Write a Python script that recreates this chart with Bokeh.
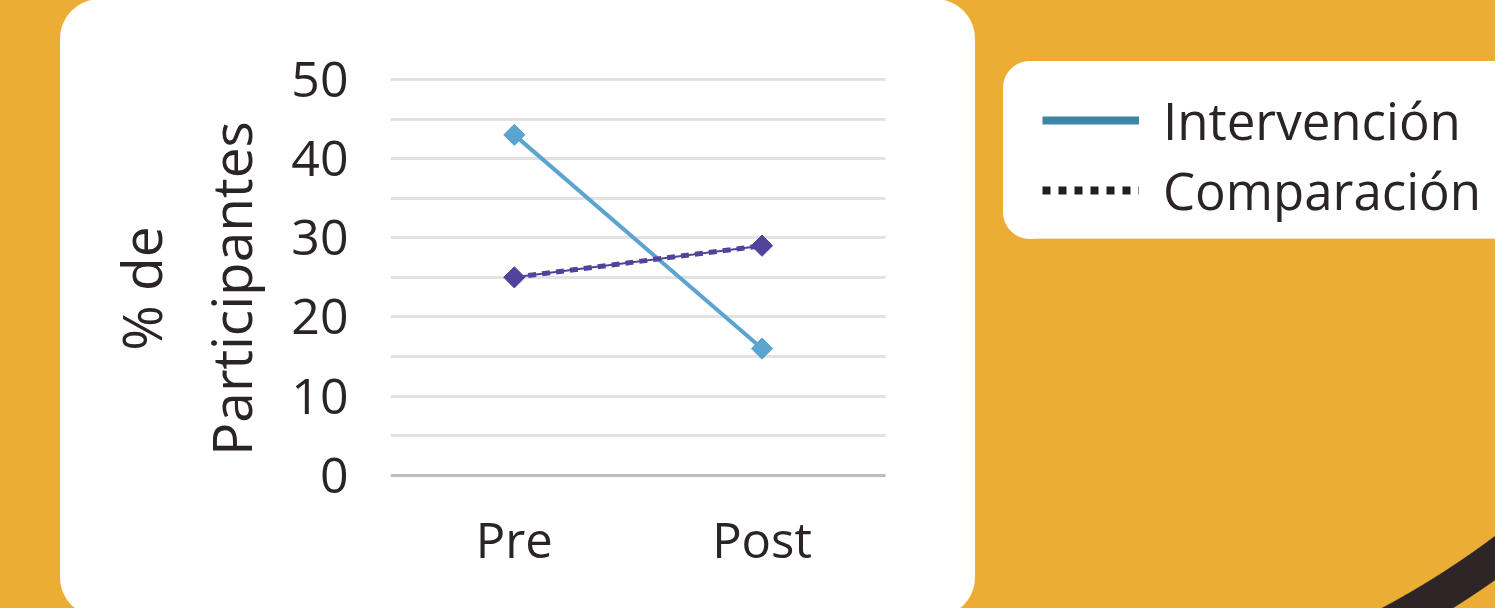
from bokeh.plotting import figure
from bokeh.models import (ColumnDataSource, Range1d, SingleIntervalTicker, FixedTicker,
                          Grid, Legend, LegendItem)
from bokeh.embed import file_html
from bokeh.resources import INLINE
import numpy as np

# ---- data ----
categories = ["Pre", "Post"]
intervencion = [43, 16]
comparacion = [25, 29]
y_ticks = [0, 10, 20, 30, 40, 50]
series_names = ["Intervención", "Comparación"]
y_title = "% de\nParticipantes"

# ---- style ----
ORANGE = "#EBAD34"
DARK = "#2E2527"
TEXT = "#2A2426"
FONT = "Open Sans"
BLUE = "#5BA4D0"
PURPLE = "#51439A"

W, H = 1495, 608
SX, SY = W / 1503.0, H / 616.0   # reference px -> figure px


def X(px):
    return px * SX


def Y(py):
    return py * SY


# plot frame (figure px); it runs to the right edge so the legend sits inside it
FL = round(X(392))
FT, FB = round(Y(72)), round(Y(512))
y50, y0 = Y(80), Y(481)
unit = (y0 - y50) / 50.0
y_top = 50 + (y50 - FT) / unit
y_bot = -(FB - y0) / unit
cat_w = 2 * (X(516.5) - X(392))          # width of one category slot
x_end = (W - FL) / cat_w
cat_pos = [i + 0.5 for i in range(len(categories))]
n_cat = len(categories)

p = figure(width=W, height=H,
           x_range=Range1d(0, x_end), y_range=Range1d(y_bot, y_top),
           output_backend="svg", toolbar_location=None,
           min_border_left=FL, min_border_right=0,
           min_border_top=FT, min_border_bottom=H - FB)

p.border_fill_color = None
p.background_fill_color = None
p.outline_line_color = None


# ---- page decoration drawn as CSS background of the figure ----
def rounded_rect(l, t, r, b, rad, color):
    w, h = r - l, b - t
    solid = f"linear-gradient({color}, {color})"
    circ = f"radial-gradient(circle at {rad}px {rad}px, {color} {rad - 0.6}px, transparent {rad + 0.6}px)"
    imgs = [solid, solid, circ, circ, circ, circ]
    sizes = [f"{w:.1f}px {h - 2 * rad:.1f}px", f"{w - 2 * rad:.1f}px {h:.1f}px"] + [f"{2 * rad}px {2 * rad}px"] * 4
    pos = [f"{l:.1f}px {t + rad:.1f}px", f"{l + rad:.1f}px {t:.1f}px",
           f"{l:.1f}px {t:.1f}px", f"{r - 2 * rad:.1f}px {t:.1f}px",
           f"{l:.1f}px {b - 2 * rad:.1f}px", f"{r - 2 * rad:.1f}px {b - 2 * rad:.1f}px"]
    return imgs, sizes, pos


imgs, sizes, pos = [], [], []
for spec in [(X(60), Y(-1), X(980), Y(625), 40, "#FFFFFF"),
             (X(1008), Y(62), X(1540), Y(242), 27, "#FFFFFF")]:
    a, b, c = rounded_rect(*spec)
    imgs += a
    sizes += b
    pos += c

# dark ring segment at bottom right
bx, by = round(X(1340)), round(Y(460))
ccx, ccy = X(975.5) - bx, Y(-165.5) - by
r1, r2 = 879 * SX, 915 * SX
imgs.append(f"radial-gradient(circle at {ccx:.1f}px {ccy:.1f}px, transparent {r1 - 0.6:.1f}px, "
            f"{DARK} {r1 + 0.6:.1f}px, {DARK} {r2 - 0.6:.1f}px, transparent {r2 + 0.6:.1f}px)")
sizes.append(f"{W - bx + 20}px {H - by + 20}px")
pos.append(f"{bx}px {by}px")

p.styles = {
    "background-color": ORANGE,
    "background-image": ", ".join(imgs),
    "background-size": ", ".join(sizes),
    "background-position": ", ".join(pos),
    "background-repeat": "no-repeat",
}

# ---- axes ----
p.yaxis.ticker = FixedTicker(ticks=y_ticks)
p.xaxis.ticker = FixedTicker(ticks=cat_pos)
p.xaxis.major_label_overrides = {pos_: c for pos_, c in zip(cat_pos, categories)}
p.xgrid.grid_line_color = None

has_cross = "cross_bounds" in Grid.properties()
p.ygrid.ticker = SingleIntervalTicker(interval=5)
p.ygrid.grid_line_color = "#E2E2E2"
p.ygrid.grid_line_width = 3
base_grid = Grid(dimension=1, ticker=FixedTicker(ticks=[0]),
                 grid_line_color="#BDBDBD", grid_line_width=3)
p.add_layout(base_grid)
if has_cross:
    p.ygrid.cross_bounds = (0, n_cat)
    base_grid.cross_bounds = (0, n_cat)
else:
    p.ygrid.grid_line_color = None
    base_grid.grid_line_color = None
    gl = list(range(0, 55, 5))
    p.segment(x0=[0] * len(gl), x1=[n_cat] * len(gl), y0=gl, y1=gl,
              line_color=["#BDBDBD"] + ["#E2E2E2"] * (len(gl) - 1), line_width=3)

for ax in (p.xaxis[0], p.yaxis[0]):
    ax.axis_line_color = None
    ax.major_tick_line_color = None
    ax.minor_tick_line_color = None
    ax.major_tick_in = 0
    ax.major_tick_out = 0
    ax.major_label_text_font = FONT
    ax.major_label_text_color = TEXT

p.yaxis.major_label_text_font_size = "50px"
p.yaxis.major_label_standoff = 42
p.xaxis.major_label_text_font_size = "49px"
p.xaxis.major_label_standoff = 0

p.yaxis.axis_label = y_title
p.yaxis.axis_label_text_font = FONT
p.yaxis.axis_label_text_font_size = "55px"
p.yaxis.axis_label_text_font_style = "normal"
p.yaxis.axis_label_text_color = TEXT
p.yaxis.axis_label_standoff = 20

# ---- series ----
src = ColumnDataSource(data=dict(x=cat_pos, cat=categories, inter=intervencion, comp=comparacion))
p.line("x", "inter", source=src, line_color=BLUE, line_width=4)
p.scatter("x", "inter", source=src, marker="square", angle=np.pi / 4, size=15,
          fill_color=BLUE, line_color=BLUE)
p.line("x", "comp", source=src, line_color=PURPLE, line_width=2)
p.line("x", "comp", source=src, line_color=PURPLE, line_width=5, line_dash="8 6")
p.scatter("x", "comp", source=src, marker="square", angle=np.pi / 4, size=15,
          fill_color=PURPLE, line_color=PURPLE)

# ---- legend (styled proxies with undefined points) ----
proxy = ColumnDataSource(data=dict(x=[np.nan, np.nan], y=[np.nan, np.nan]))
leg1 = p.line("x", "y", source=proxy, line_color="#3D86A8", line_width=8)
leg2 = p.line("x", "y", source=proxy, line_color="#231F20", line_width=8, line_dash="8 8")
row_h = 70
leg_top = Y(121.5) - row_h / 2
legend = Legend(items=[LegendItem(label=series_names[0], renderers=[leg1]),
                       LegendItem(label=series_names[1], renderers=[leg2])],
                location=(round(X(1048) - FL), round(FB - leg_top - 2 * row_h)),
                orientation="vertical",
                glyph_width=round(X(1146) - X(1048)), glyph_height=row_h, label_height=row_h,
                label_standoff=24, spacing=0, padding=0, margin=0,
                background_fill_alpha=0, border_line_alpha=0,
                label_text_font=FONT, label_text_font_size="51px",
                label_text_color=TEXT)
p.add_layout(legend)

open("out.html", "w").write(file_html(p, INLINE))
